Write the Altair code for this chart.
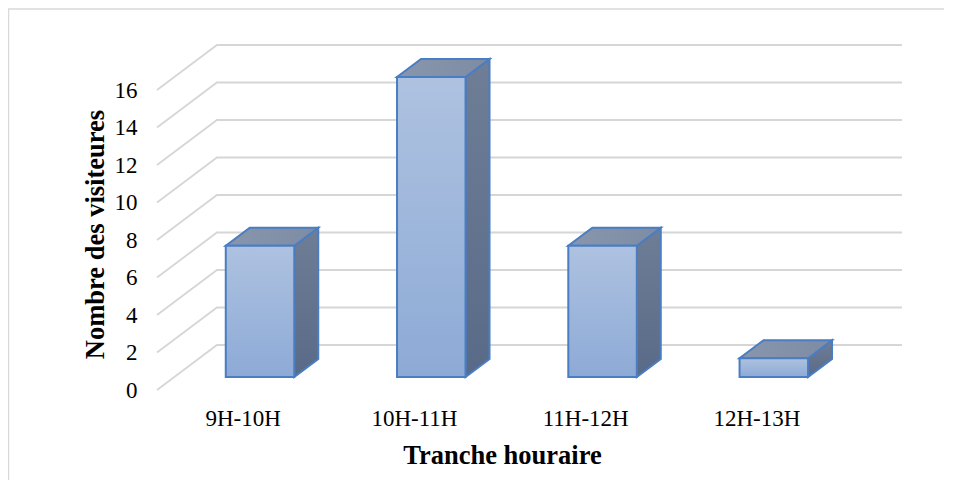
import json
import altair as alt
import pandas as pd

# ---- data ----
categories = ["9H-10H", "10H-11H", "11H-12H", "12H-13H"]
values = [7, 16, 7, 1]
tick_values = [0, 2, 4, 6, 8, 10, 12, 14, 16]

# ---- 3D projection parameters (data units) ----
DX, DY = 0.35, 2.4      # offset of the back wall
ZF, ZB = 0.29, 0.69     # depth of bar front / back
HALF = 0.2              # half bar width (category units)
N = len(categories)
W, H = 745, 345

front_rows, top_rows, side_rows, grid_rows = [], [], [], []
for i, v in enumerate(values):
    l = i + 0.5 - HALF + ZF * DX
    r = i + 0.5 + HALF + ZF * DX
    sx = (ZB - ZF) * DX
    front_rows.append(dict(cat=categories[i], x=l, x2=r, y=ZF * DY, y2=v + ZF * DY))
    top_rows.append(dict(cat=categories[i], y=v + ZF * DY, x=l, x2=r))
    top_rows.append(dict(cat=categories[i], y=v + ZB * DY, x=l + sx, x2=r + sx))
    side_rows.append(dict(cat=categories[i], x=r, y=v + ZF * DY, y2=ZF * DY))
    side_rows.append(dict(cat=categories[i], x=r + sx, y=v + ZB * DY, y2=ZB * DY))
for t in tick_values:
    grid_rows.append(dict(t=t, o=0, x=0, y=t))
    grid_rows.append(dict(t=t, o=1, x=DX, y=t + DY))
    grid_rows.append(dict(t=t, o=2, x=N + DX, y=t + DY))

front = pd.DataFrame(front_rows)
top = pd.DataFrame(top_rows)
side = pd.DataFrame(side_rows)
grid = pd.DataFrame(grid_rows)

FONT = "Liberation Serif"
xscale = alt.Scale(domain=[0, N + DX], nice=False, zero=False)
yscale = alt.Scale(domain=[0, max(tick_values) + DY], nice=False, zero=False)

label_expr = json.dumps(categories) + "[floor(datum.value)]"
xaxis = alt.Axis(
    values=[i + 0.5 for i in range(N)], labelExpr=label_expr,
    grid=False, domain=False, ticks=False, tickSize=0, labelPadding=17,
    labelFont=FONT, labelFontSize=23, labelColor="#000000",
    title="Tranche houraire", titleFont=FONT, titleFontSize=26.5,
    titleFontWeight="bold", titleColor="#000000", titleX=345, titleY=73,
    titleAlign="center", titleBaseline="alphabetic", titleAngle=0,
)
yaxis = alt.Axis(
    values=tick_values, grid=False, domain=False, ticks=False, tickSize=0,
    labelPadding=20, labelFont=FONT, labelFontSize=23, labelColor="#000000",
    title="Nombre des visiteures", titleFont=FONT, titleFontSize=26.5,
    titleFontWeight="bold", titleColor="#000000", titleX=-54, titleY=189,
    titleAlign="center", titleBaseline="alphabetic", titleAngle=270,
)

X = alt.X("x:Q", scale=xscale, axis=xaxis, stack=None)
Y = alt.Y("y:Q", scale=yscale, axis=yaxis, stack=None)


def grad(c1, c2, horizontal=False):
    return alt.Gradient(
        gradient="linear",
        stops=[alt.GradientStop(color=c1, offset=0), alt.GradientStop(color=c2, offset=1)],
        x1=0, y1=0, x2=1 if horizontal else 0, y2=0 if horizontal else 1,
    )


OUTLINE = "#4a7dc2"

border = alt.Chart(pd.DataFrame({"a": [0]})).mark_rect(
    filled=False, stroke="#d9d9d9", strokeWidth=1.5
).encode(
    x=alt.value(-148.5), x2=alt.value(W + 300), y=alt.value(-36), y2=alt.value(H + 300)
)

grid_layer = alt.Chart(grid).mark_line(color="#d6d6d6", strokeWidth=1.8).encode(
    x=X, y=Y, detail="t:N", order="o:Q"
)

side_layer = alt.Chart(side).mark_area(
    color=grad("#6f7e96", "#596a88"), stroke=OUTLINE, strokeWidth=2,
    orient="vertical", interpolate="linear"
).encode(x=X, y=Y, y2="y2:Q", detail="cat:N")

top_layer = alt.Chart(top).mark_area(
    color=grad("#8896ad", "#7d8ca4", horizontal=True), stroke=OUTLINE, strokeWidth=2,
    orient="horizontal", interpolate="linear"
).encode(x=X, x2="x2:Q", y=Y, detail="cat:N")

front_layer = alt.Chart(front).mark_rect(
    color=grad("#aec2e0", "#8daad6"), stroke=OUTLINE, strokeWidth=2
).encode(x=X, x2="x2:Q", y=Y, y2="y2:Q")

chart = alt.layer(border, grid_layer, side_layer, top_layer, front_layer).properties(
    width=W, height=H,
    autosize=alt.AutoSizeParams(type="none"),
    padding={"left": 149, "top": 37, "right": 42, "bottom": 90},
    background="#ffffff",
).configure(font=FONT).configure_view(strokeWidth=0).configure_axis(
    labelFont=FONT, titleFont=FONT
)

chart.save("out.html", embed_options={"renderer": "svg", "actions": False})
